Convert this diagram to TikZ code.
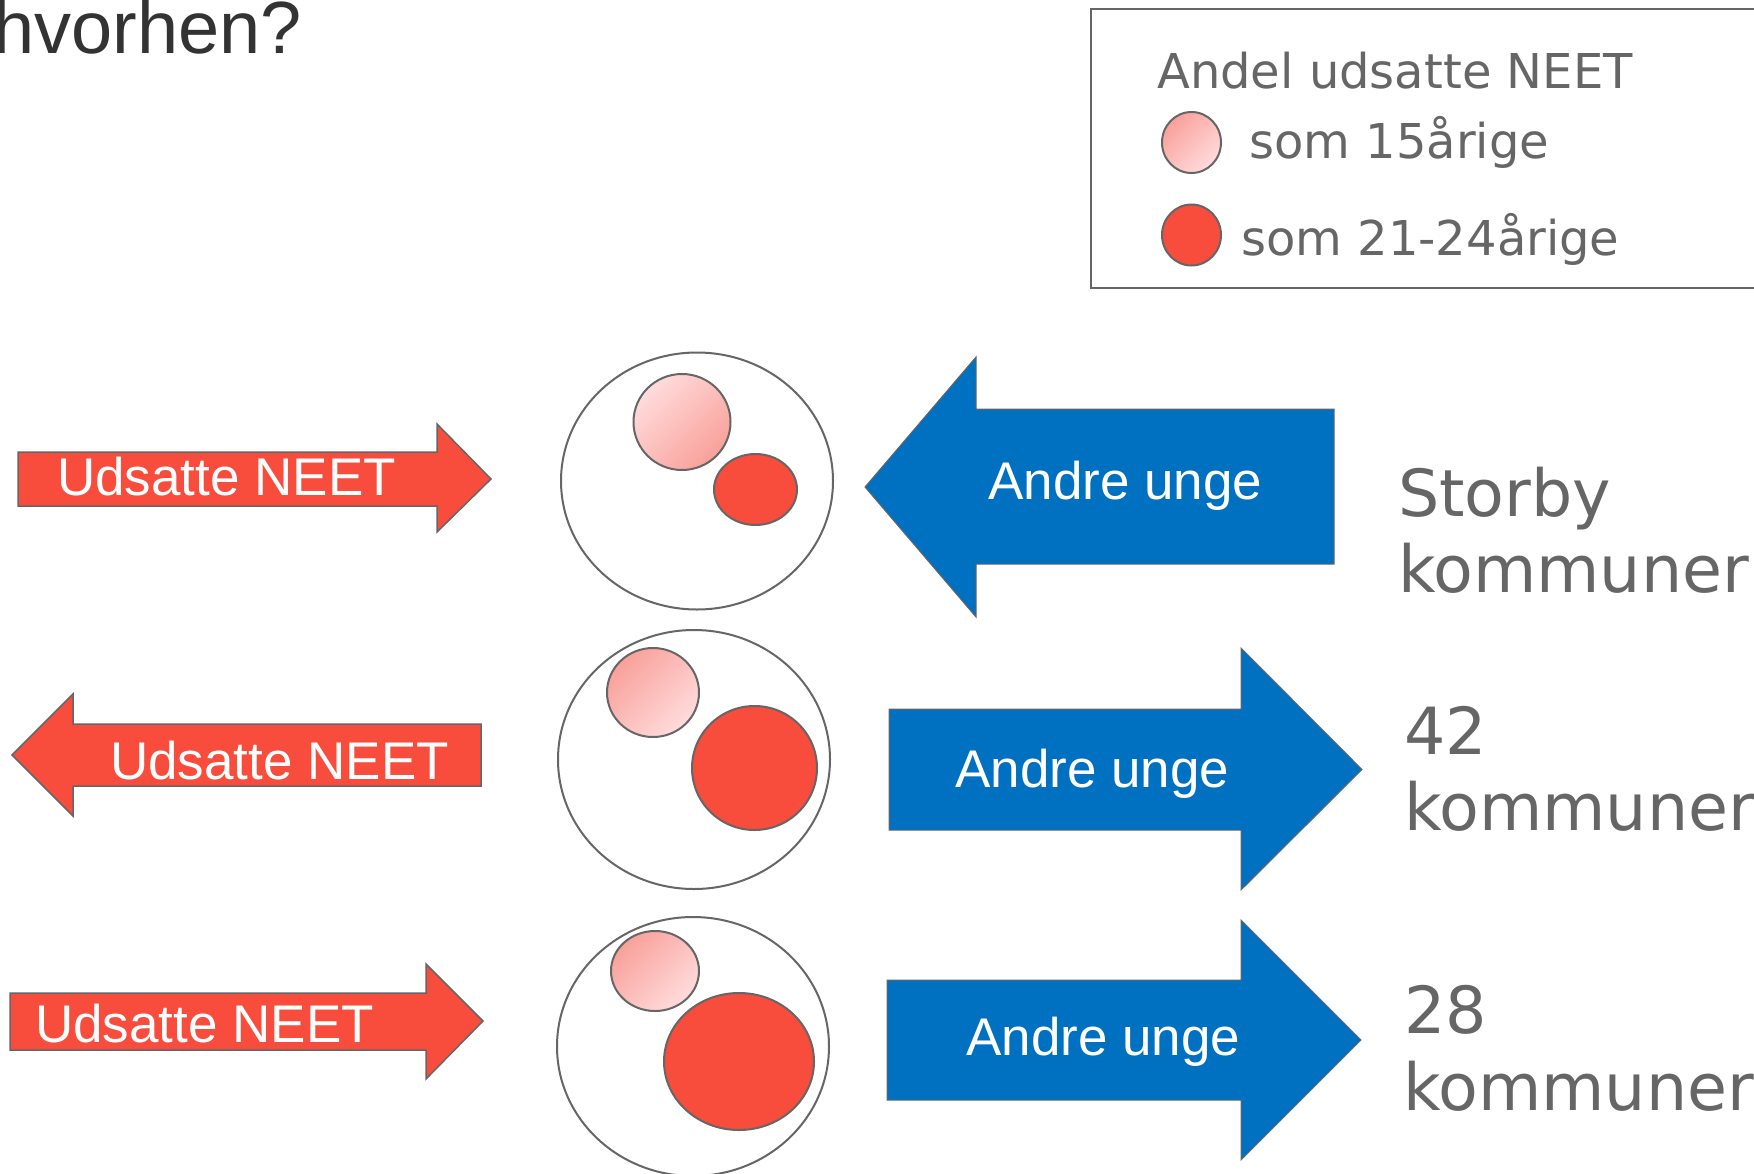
\documentclass[tikz,border=0pt]{standalone}
\usepackage{fontspec}
\setmainfont{Liberation Sans}
\newfontfamily\verd{DejaVu Sans}
\definecolor{neetred}{HTML}{F84C3C}
\definecolor{ungblue}{HTML}{0070C0}
\definecolor{edgegray}{HTML}{666666}
\definecolor{pinkdark}{HTML}{F9A09A}
\definecolor{pinklight}{HTML}{FFDCDC}
\definecolor{titlegray}{HTML}{333333}
\tikzset{
  redarrow/.style={draw=edgegray,line width=1.5pt,fill=neetred},
  bluearrow/.style={draw=edgegray,line width=1pt,fill=ungblue},
  arrowtext/.style={white,inner sep=0,anchor=base west,font=\fontsize{53}{60}\selectfont},
  legtext/.style={edgegray,inner sep=0,anchor=base west,font=\verd\fontsize{48}{56}\selectfont},
  kommtext/.style={edgegray,inner sep=0,anchor=base west,font=\verd\fontsize{65}{76}\selectfont},
  group/.style={draw=edgegray,line width=2pt,fill=white},
  young/.style={draw=edgegray,line width=2pt,top color=pinkdark,bottom color=pinklight,shading angle=45},
  youngrev/.style={draw=edgegray,line width=2pt,top color=pinklight,bottom color=pinkdark,shading angle=45},
  older/.style={draw=edgegray,line width=2pt,fill=neetred}
}
\begin{document}
\begin{tikzpicture}[x=1pt,y=-1pt]
  \useasboundingbox (0,0) rectangle (1754,1173);
  % title
  \node[titlegray,inner sep=0,anchor=base west,font=\fontsize{74}{80}\selectfont] (title) at (-7,53) {hvorhen?};
  % legend
  \draw[draw=edgegray,line width=1.5pt] (1091,9) rectangle (1760,288);
  \node[legtext] (legtitle) at (1157,88) {Andel udsatte NEET};
  \path[young] (1191.5,142.5) ellipse [x radius=29.5pt,y radius=30.5pt];
  \node[legtext] (leg15) at (1249,158) {som 15årige};
  \path[older] (1191.5,235) ellipse [x radius=29.5pt,y radius=30.5pt];
  \node[legtext] (leg21) at (1241,255) {som 21-24årige};
  % row 1: storby
  \draw[redarrow] (18,452)--(437,452)--(437,424)--(491,479)--(437,532)--(437,506)--(18,506)--cycle;
  \node[arrowtext] (neet1) at (57,495) {Udsatte NEET};
  \draw[group] (697,481) ellipse [x radius=136pt,y radius=128.5pt];
  \path[youngrev] (682,422) ellipse [x radius=48.5pt,y radius=48pt];
  \path[older] (755.5,489.5) ellipse [x radius=41.5pt,y radius=35.5pt];
  \draw[bluearrow] (865,487)--(976,357)--(976,409)--(1334,409)--(1334,564)--(976,564)--(976,617)--cycle;
  \node[arrowtext] (andre1) at (988,499) {Andre unge};
  \node[kommtext] (storby) at (1398,516) {Storby};
  \node[kommtext] (storbykom) at (1398,592) {kommuner};
  % row 2: 42 kommuner
  \draw[redarrow] (12,755)--(73,694)--(73,724)--(481,724)--(481,786)--(73,786)--(73,816)--cycle;
  \node[arrowtext] (neet2) at (110,779) {Udsatte NEET};
  \draw[group] (694,759.5) ellipse [x radius=136pt,y radius=129.5pt];
  \path[young] (653,692.5) ellipse [x radius=46pt,y radius=44.5pt];
  \path[older] (754.5,768) ellipse [x radius=62.5pt,y radius=62pt];
  \draw[bluearrow] (889,709)--(1241,709)--(1241,648)--(1362,769.5)--(1241,890)--(1241,830)--(889,830)--cycle;
  \node[arrowtext] (andre2) at (955,787) {Andre unge};
  \node[kommtext] (n42) at (1404,754) {42};
  \node[kommtext] (n42kom) at (1404,830) {kommuner};
  % row 3: 28 kommuner
  \draw[redarrow] (10,993)--(426,993)--(426,964)--(483,1021)--(426,1079)--(426,1050)--(10,1050)--cycle;
  \node[arrowtext] (neet3) at (35,1042) {Udsatte NEET};
  \draw[group] (693,1046.5) ellipse [x radius=136pt,y radius=129.5pt];
  \path[young] (655,971) ellipse [x radius=44pt,y radius=40pt];
  \path[older] (739,1061.5) ellipse [x radius=75pt,y radius=68.5pt];
  \draw[bluearrow] (887,980)--(1241,980)--(1241,920)--(1361,1040)--(1241,1160)--(1241,1100)--(887,1100)--cycle;
  \node[arrowtext] (andre3) at (966,1055) {Andre unge};
  \node[kommtext] (n28) at (1404,1033) {28};
  \node[kommtext] (n28kom) at (1403,1110) {kommuner};
\end{tikzpicture}
\end{document}
